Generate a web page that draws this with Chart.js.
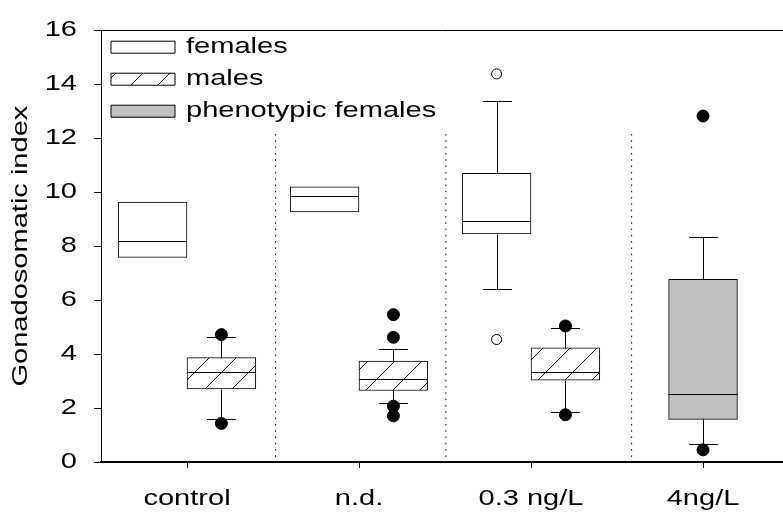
<!DOCTYPE html>
<html>
<head>
<meta charset="utf-8">
<script src="https://cdn.jsdelivr.net/npm/chart.js@4.4.1/dist/chart.umd.min.js"></script>
<style>
    html, body { margin: 0; padding: 0; background: #fff; }
    #wrap { width: 783px; height: 517px; }
</style>
</head>
<body>
<div id="wrap"><canvas id="gsi"></canvas></div>
<script>
// Data
const categories = ['control', 'n.d.', '0.3 ng/L', '4ng/L'];
const seriesNames = ['females', 'males', 'phenotypic females'];
const yTicks = [0, 2, 4, 6, 8, 10, 12, 14, 16];

// females (null = no box in that group)
const femQ1 = [7.58, 9.27, 8.45, null];
const femMedian = [8.19, 9.85, 8.94, null];
const femQ3 = [9.63, 10.2, 10.7, null];
const femLow = [null, null, 6.41, null];
const femHigh = [null, null, 13.38, null];
const femOutliers = [[], [], [14.38, 4.54], []];

// males
const maleQ1 = [2.71, 2.65, 3.03, null];
const maleMedian = [3.34, 3.09, 3.32, null];
const maleQ3 = [3.87, 3.74, 4.23, null];
const maleLow = [1.58, 2.19, 1.84, null];
const maleHigh = [4.64, 4.2, 4.98, null];
const maleOutliers = [[4.72, 1.43], [5.46, 4.62, 2.07, 1.71], [5.04, 1.75], []];

// phenotypic females
const phenQ1 = [null, null, null, 1.58];
const phenMedian = [null, null, null, 2.52];
const phenQ3 = [null, null, null, 6.77];
const phenLow = [null, null, null, 0.66];
const phenHigh = [null, null, null, 8.33];
const phenOutliers = [[], [], [], [12.82, 0.45]];

// group separators (dotted)
const separatorX = [1.515, 2.505, 3.585];
const separatorTop = 12.15;

const FONT = '"Liberation Sans", Arial, sans-serif';
const capRatio = 0.42;
const textStretch = 1.32;   // the original lettering is set wide

// Functions
// Diagonal hatch for the males boxes
function makeHatch() {
    const size = 27;
    const c = document.createElement('canvas');
    c.width = size;
    c.height = size;
    const g = c.getContext('2d');
    g.fillStyle = '#fff';
    g.fillRect(0, 0, size, size);
    g.strokeStyle = '#000';
    g.lineWidth = 1;
    g.beginPath();
    for (let k = -size; k <= size; k += size) {
        g.moveTo(k, size);
        g.lineTo(k + size, 0);
    }
    g.stroke();
    return g.createPattern(c, 'repeat');
}

function boxData(q1, q3, offset) {
    let pts = [];
    q1.forEach((v, i) => {
        if (v !== null) pts.push({x: i + 1 + offset, y: [v, q3[i]]});
    });
    return pts;
}

function boxStats(q1, med, q3, low, high) {
    let stats = [];
    q1.forEach((v, i) => {
        if (v !== null) stats.push({q1: v, median: med[i], q3: q3[i], low: low[i], high: high[i]});
    });
    return stats;
}

function outlierData(list, offset) {
    let pts = [];
    list.forEach((vals, i) => vals.forEach(v => pts.push({x: i + 1 + offset, y: v})));
    return pts;
}

// wide text: stretch every label along its own direction
function stretchText(context) {
    const fill = context.fillText;
    context.fillText = function(text, x, y, maxWidth) {
        this.save();
        this.translate(x, y);
        this.scale(textStretch, 1);
        if (maxWidth === undefined) fill.call(this, text, 0, 0);
        else fill.call(this, text, 0, 0, maxWidth / textStretch);
        this.restore();
    };
}

// medians and whiskers, drawn right after each box dataset
const boxLines = {
    id: 'boxLines',
    afterDatasetDraw(chart, args) {
        const ds = chart.data.datasets[args.index];
        if (!ds.stats) return;
        const ctx = chart.ctx;
        const yScale = chart.scales.y;
        const py = v => Math.round(yScale.getPixelForValue(v)) + 0.5;
        ctx.save();
        ctx.strokeStyle = '#000';
        ctx.lineWidth = 1;
        args.meta.data.forEach((bar, i) => {
            const s = ds.stats[i];
            const left = bar.x - bar.width / 2;
            const right = bar.x + bar.width / 2;
            const cx = Math.round(bar.x) + 0.5;
            const cap = bar.width * capRatio / 2;
            ctx.beginPath();
            ctx.moveTo(left, py(s.median));
            ctx.lineTo(right, py(s.median));
            if (s.high !== null) {
                ctx.moveTo(cx, py(s.q3));
                ctx.lineTo(cx, py(s.high));
                ctx.moveTo(cx - cap, py(s.high));
                ctx.lineTo(cx + cap, py(s.high));
            }
            if (s.low !== null) {
                ctx.moveTo(cx, py(s.q1));
                ctx.lineTo(cx, py(s.low));
                ctx.moveTo(cx - cap, py(s.low));
                ctx.lineTo(cx + cap, py(s.low));
            }
            ctx.stroke();
        });
        ctx.restore();
    }
};

// keep the legend in the top left corner of the plot area
const legendCorner = {
    id: 'legendCorner',
    afterLayout(chart) {
        if (!chart.legend) return;
        chart.legend.top = chart.chartArea.top - 4;
        chart.legend.left = chart.chartArea.left;
    }
};

const hatch = makeHatch();

function boxDataset(label, q1, med, q3, low, high, offset, fill) {
    return {
        type: 'bar',
        label: label,
        data: boxData(q1, q3, offset),
        stats: boxStats(q1, med, q3, low, high),
        backgroundColor: fill,
        borderColor: '#000',
        borderWidth: 1,
        borderSkipped: false,
        grouped: false,
        categoryPercentage: 1,
        barPercentage: 1,
        order: 0
    };
}

function outlierDataset(list, offset, open) {
    return {
        type: 'scatter',
        label: 'outliers',
        data: outlierData(list, offset),
        pointRadius: open ? 5 : 6,
        pointBackgroundColor: open ? '#fff' : '#000',
        pointBorderColor: '#000',
        pointBorderWidth: 1,
        order: -1
    };
}

const ctx = document.getElementById('gsi').getContext('2d');
stretchText(ctx);

const chart = new Chart(ctx, {
    data: {
        datasets: [
            boxDataset(seriesNames[0], femQ1, femMedian, femQ3, femLow, femHigh, -0.2, '#fff'),
            boxDataset(seriesNames[1], maleQ1, maleMedian, maleQ3, maleLow, maleHigh, 0.2, hatch),
            boxDataset(seriesNames[2], phenQ1, phenMedian, phenQ3, phenLow, phenHigh, 0, '#c0c0c0'),
            outlierDataset(femOutliers, -0.2, true),
            outlierDataset(maleOutliers, 0.2, false),
            outlierDataset(phenOutliers, 0, false),
            {
                type: 'line',
                label: 'separators',
                data: separatorX.flatMap(x => [{x: x, y: separatorTop}, {x: x, y: 0}, {x: x, y: null}]),
                borderColor: '#000',
                borderWidth: 1,
                borderDash: [1.5, 4.8],
                pointRadius: 0,
                spanGaps: false,
                order: 1
            }
        ]
    },
    options: {
        responsive: true,
        maintainAspectRatio: false,
        animation: false,
        events: [],
        layout: {autoPadding: false, padding: {top: 20, right: 0, left: 0, bottom: 0}},
        plugins: {
            legend: {
                position: 'chartArea',
                align: 'start',
                labels: {
                    boxWidth: 64,
                    boxHeight: 12,
                    padding: 10,
                    color: '#000',
                    font: {family: FONT, size: 22},
                    filter: (item, data) => !!data.datasets[item.datasetIndex].stats
                }
            },
            tooltip: {enabled: false}
        },
        scales: {
            x: {
                type: 'linear',
                offset: false,
                min: 0.5,
                max: 4.465,
                afterBuildTicks: scale => {
                    scale.ticks = categories.map((c, i) => ({value: i + 1}));
                },
                afterFit: scale => {
                    scale.height = 55;
                    scale.paddingLeft = 0;
                    scale.paddingRight = 0;
                },
                ticks: {
                    callback: value => categories[value - 1],
                    color: '#000',
                    padding: 18,
                    maxRotation: 0,
                    font: {family: FONT, size: 22}
                },
                grid: {offset: false, drawOnChartArea: false, tickLength: 6, tickColor: '#000'},
                border: {color: '#000', width: 2}
            },
            y: {
                min: 0,
                max: 16,
                afterBuildTicks: scale => {
                    scale.ticks = yTicks.map(v => ({value: v}));
                },
                afterFit: scale => { scale.width = 101; },
                ticks: {
                    color: '#000',
                    padding: 17,
                    font: {family: FONT, size: 22}
                },
                grid: {
                    color: c => (c.tick && c.tick.value === 16 ? '#000' : 'rgba(0,0,0,0)'),
                    tickColor: '#000',
                    tickLength: 7
                },
                border: {color: '#000', width: 1},
                title: {
                    display: true,
                    text: 'Gonadosomatic index',
                    color: '#000',
                    padding: {top: 8, bottom: 0},
                    font: {family: FONT, size: 22}
                }
            }
        }
    },
    plugins: [boxLines, legendCorner]
});
</script>
</body>
</html>
